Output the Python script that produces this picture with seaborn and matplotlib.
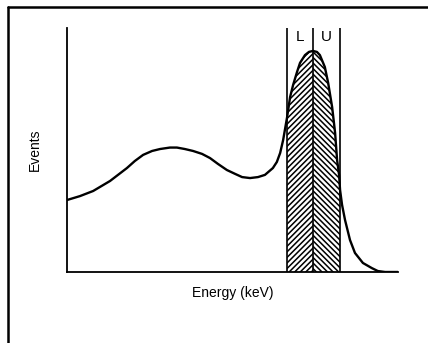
import numpy as np
import pandas as pd
import matplotlib
matplotlib.use("Agg")
import matplotlib.pyplot as plt
from matplotlib.lines import Line2D
import seaborn as sns

# Energy (arbitrary units, 0-100) and event counts
energy = [0.0, 3.9, 7.9, 13.0, 18.1, 20.5, 23.0, 25.7, 28.1, 31.1, 33.2, 35.6,
          38.1, 40.8, 43.2, 45.6, 48.3, 50.8, 52.9, 55.3, 57.7, 59.8, 62.2,
          63.4, 64.4, 65.3, 66.5, 67.4, 68.3, 69.5, 70.4, 71.9, 73.1, 74.3,
          75.5, 76.4, 77.9, 78.9, 80.1, 81.0, 81.6, 82.2, 82.5, 83.1, 84.0,
          85.5, 87.0, 89.4, 92.1, 93.9, 96.1, 100.0]
events = [29.5, 31.1, 33.2, 37.3, 42.6, 45.5, 48.0, 49.6, 50.4, 51.0, 51.0, 50.4,
          49.6, 48.4, 46.7, 44.3, 41.8, 40.2, 38.9, 38.5, 38.9, 39.8, 42.6,
          45.1, 48.8, 54.1, 63.5, 71.7, 76.6, 82.0, 85.7, 88.9, 90.2, 90.6,
          90.2, 88.9, 84.0, 77.5, 67.6, 57.0, 45.9, 39.8, 33.6, 27.5, 21.3,
          13.1, 7.8, 3.7, 1.6, 0.4, 0.0, 0.0]

window_lower = 66.5   # left edge of L window
window_mid = 74.3     # boundary between L and U
window_upper = 82.5   # right edge of U window
window_labels = ["L", "U"]

x_label = "Energy (keV)"
y_label = "Events"

sns.set_style("white")
plt.rcParams["font.family"] = ["Liberation Sans", "DejaVu Sans"]
plt.rcParams["hatch.linewidth"] = 1.1
plt.rcParams["text.color"] = "black"
plt.rcParams["axes.labelcolor"] = "black"

df = pd.DataFrame({"energy": energy, "events": events})

fig = plt.figure(figsize=(4.28, 3.43), dpi=100)
ax = fig.add_axes([67 / 428, 71 / 343, 331 / 428, 244 / 343])

e = np.array(energy)
v = np.array(events)
mL = (e >= window_lower) & (e <= window_mid)
mU = (e >= window_mid) & (e <= window_upper)
ax.fill_between(e[mL], 0, v[mL], facecolor="white", edgecolor="black",
                hatch="//////", linewidth=0)
ax.fill_between(e[mU], 0, v[mU], facecolor="white", edgecolor="black",
                hatch="\\\\\\\\\\\\", linewidth=0)

sns.lineplot(data=df, x="energy", y="events", ax=ax, color="black",
             linewidth=1.7, sort=False)

for xv in (window_lower, window_mid, window_upper):
    ax.axvline(xv, color="black", linewidth=1.2)

ax.text((window_lower + window_mid) / 2, 96.3, window_labels[0], ha="center",
        va="center", fontsize=11, color="black")
ax.text((window_mid + window_upper) / 2, 96.3, window_labels[1], ha="center",
        va="center", fontsize=11, color="black")

ax.set_xlim(0, 100)
ax.set_ylim(0, 100)
ax.set_xticks([])
ax.set_yticks([])
ax.set_xlabel(x_label, fontsize=10, labelpad=10, color="black")
ax.set_ylabel(y_label, fontsize=10, labelpad=18, color="black")
sns.despine(ax=ax, top=True, right=True)
for s in ("left", "bottom"):
    ax.spines[s].set_color("black")
    ax.spines[s].set_linewidth(1.3)

# outer frame lines (top and left) of the figure panel
fig.add_artist(Line2D([8 / 428, 1.0], [1 - 7 / 343, 1 - 7 / 343],
                      transform=fig.transFigure, color="black", linewidth=1.8))
fig.add_artist(Line2D([8 / 428, 8 / 428], [0.0, 1 - 7 / 343],
                      transform=fig.transFigure, color="black", linewidth=1.8))

fig.savefig("out.png", dpi=100, facecolor="white")
